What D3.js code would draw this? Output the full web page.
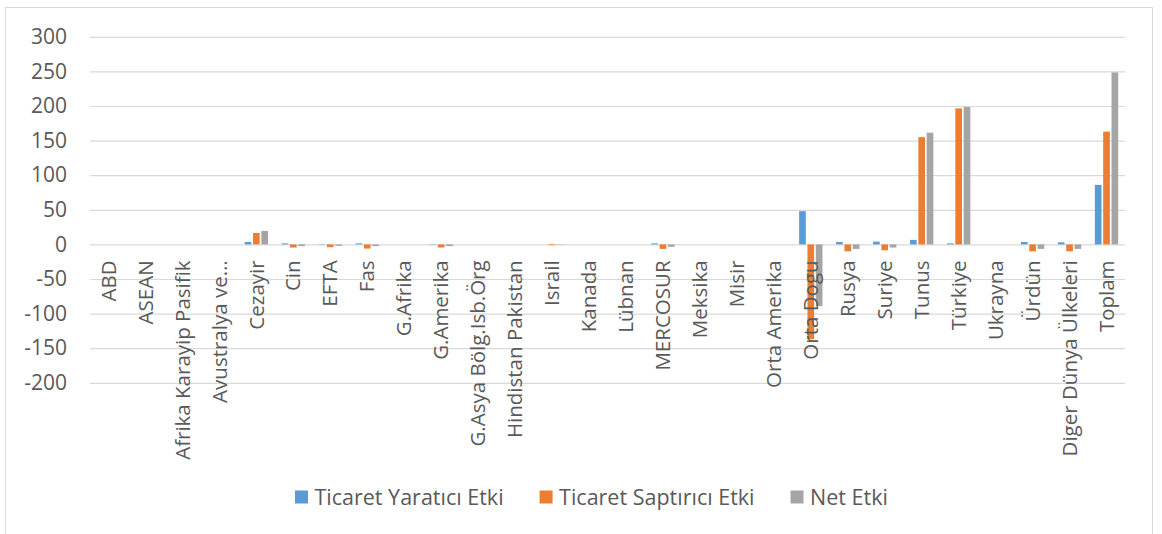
<!DOCTYPE html>
<html><head><meta charset="utf-8">
<script src="https://cdn.jsdelivr.net/npm/d3@7"></script>
<style>
html,body{margin:0;padding:0;background:#fff;}
svg{display:block;font-family:"Open Sans",sans-serif;}
</style></head>
<body><svg id="c" width="1162" height="534"></svg>
<script>
const categories = ["ABD","ASEAN","Afrika Karayip Pasifik","Avustralya ve…","Cezayir","Cin","EFTA","Fas","G.Afrika","G.Amerika","G.Asya Bölg.Isb.Örg","Hindistan Pakistan","Israil","Kanada","Lübnan","MERCOSUR","Meksika","Misir","Orta Amerika","Orta Dogu","Rusya","Suriye","Tunus","Türkiye","Ukrayna","Ürdün","Diger Dünya Ülkeleri","Toplam"];
const seriesNames = ["Ticaret Yaratıcı Etki","Ticaret Saptırıcı Etki","Net Etki"];
const yaratici = [0,0,0,0,3.5,1.5,0.5,1.5,0,0.5,0,0,0,0,0,1.5,0,0,0,48,3.5,4,6.5,1.5,0,3.5,3,86];
const saptirici = [0,0,0,0,16.5,-4.5,-4,-6,0,-4.5,0,0,-1,0,0,-6.5,0,0,0,-137,-10,-8.5,155,196.5,0,-10,-10,163];
const net = [0,0,0,0,19.5,-2.5,-2,-2.5,0,-2.5,0,0,-0.5,0,0,-3.5,0,0,0,-89,-6.5,-4.5,161.5,198.5,0,-6.5,-6.5,248.5];
const yTicks = [300,250,200,150,100,50,0,-50,-100,-150,-200];
const colors = ["#5b9bd5","#ed7d31","#a5a5a5"];
const seriesValues = [yaratici, saptirici, net];

const svg = d3.select("#c");
svg.append("rect").attr("x",5.5).attr("y",7.5).attr("width",1147).attr("height",540)
  .attr("fill","none").attr("stroke","#d9d9d9").attr("stroke-width",1);

const left = 90, right = 1125;
const y = d3.scaleLinear().domain([-200,300]).range([382.8,36.8]);
const x0 = d3.scaleBand().domain(categories).range([left,right]).paddingInner(0).paddingOuter(0);
const gw = 25;
const x1 = d3.scaleBand().domain(seriesNames).range([0,gw]).paddingInner(0.2).paddingOuter(0.1);

const yAxis = d3.axisLeft(y).tickValues(yTicks).tickSize(-(right-left)).tickPadding(23)
  .tickFormat(d=>String(d));
const ga = svg.append("g").attr("transform",`translate(${left},0)`).call(yAxis);
ga.select(".domain").remove();
ga.selectAll(".tick line").attr("stroke","#d9d9d9").attr("stroke-width",1.2);
ga.selectAll(".tick text").attr("fill","#595959").style("font-size","21px").style("font-family","Open Sans");

const off = (x0.bandwidth()-gw)/2;
seriesNames.forEach((s,si)=>{
  svg.append("g").selectAll("rect").data(seriesValues[si]).join("rect")
    .attr("x",(d,i)=>x0(categories[i])+off+x1(s))
    .attr("width",x1.bandwidth())
    .attr("y",d=>y(Math.max(0,d)))
    .attr("height",d=>Math.abs(y(d)-y(0)))
    .attr("fill",colors[si]);
});

const xAxis = d3.axisBottom(x0).tickSize(0).tickPadding(0);
const gx = svg.append("g").attr("transform",`translate(0,${y(0)})`).call(xAxis);
gx.select(".domain").remove();
gx.selectAll(".tick text")
  .attr("fill","#595959").style("font-size","20.5px").style("font-family","Open Sans")
  .attr("text-anchor","end").attr("dy","0.35em")
  .attr("transform","translate(0,16) rotate(-90)").attr("x",0).attr("y",0);

const leg = svg.append("g").attr("transform","translate(295,497)");
let cx = 0;
seriesNames.forEach((s,i)=>{
  const g = leg.append("g").attr("transform",`translate(${cx},0)`);
  g.append("rect").attr("x",0).attr("y",-6.5).attr("width",13).attr("height",13).attr("fill",colors[i]);
  const t = g.append("text").attr("x",19.5).attr("dy","0.35em").text(s)
    .attr("fill","#595959").style("font-size","21.5px").style("font-family","Open Sans");
  cx += 19.5 + t.node().getComputedTextLength() + 36;
});
</script></body></html>
